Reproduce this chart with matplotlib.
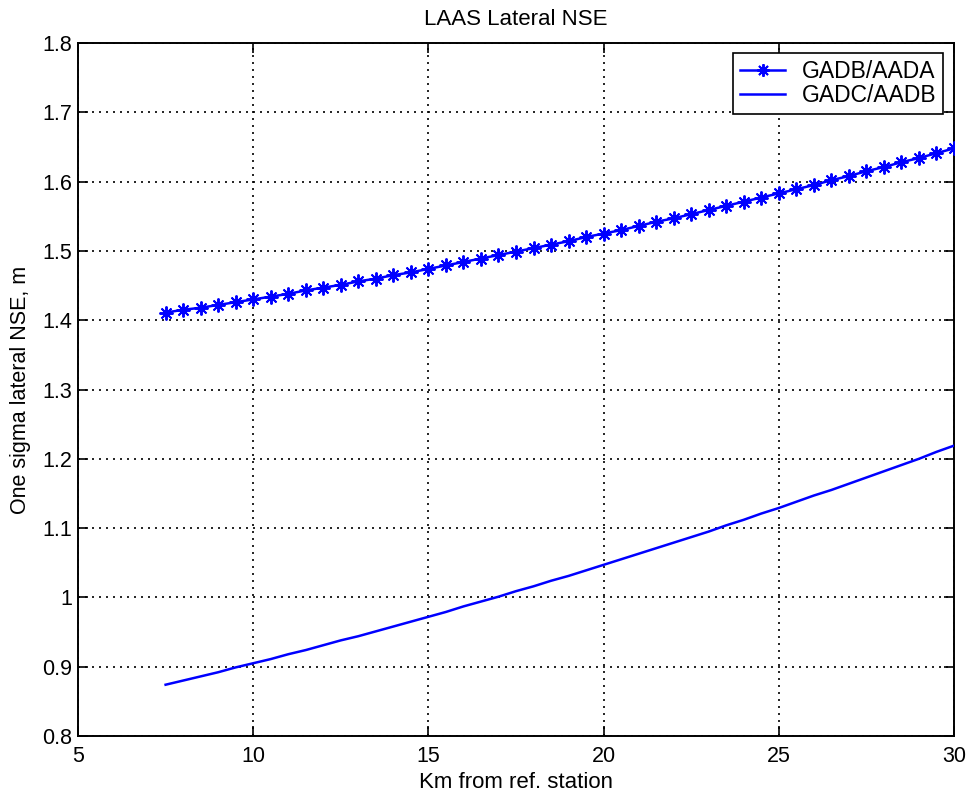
import matplotlib
matplotlib.use("Agg")
import matplotlib.pyplot as plt

plt.rcParams['font.family'] = ['Liberation Sans', 'DejaVu Sans']

# Distance from the reference station, km
km = [7.5, 8.0, 8.5, 9.0, 9.5, 10.0, 10.5, 11.0, 11.5, 12.0, 12.5, 13.0,
      13.5, 14.0, 14.5, 15.0, 15.5, 16.0, 16.5, 17.0, 17.5, 18.0, 18.5,
      19.0, 19.5, 20.0, 20.5, 21.0, 21.5, 22.0, 22.5, 23.0, 23.5, 24.0,
      24.5, 25.0, 25.5, 26.0, 26.5, 27.0, 27.5, 28.0, 28.5, 29.0, 29.5, 30.0]

# One-sigma lateral NSE, m
gadb_aada = [1.411, 1.415, 1.418, 1.422, 1.426, 1.430, 1.434, 1.438, 1.443,
             1.447, 1.451, 1.456, 1.460, 1.465, 1.469, 1.474, 1.479, 1.484,
             1.489, 1.494, 1.499, 1.504, 1.509, 1.514, 1.520, 1.525, 1.530,
             1.536, 1.542, 1.547, 1.553, 1.559, 1.565, 1.571, 1.577, 1.583,
             1.589, 1.595, 1.602, 1.608, 1.615, 1.621, 1.628, 1.634, 1.641,
             1.648]

gadc_aadb = [0.874, 0.880, 0.886, 0.892, 0.899, 0.905, 0.911, 0.918, 0.924,
             0.931, 0.938, 0.944, 0.951, 0.958, 0.965, 0.972, 0.979, 0.987,
             0.994, 1.001, 1.009, 1.016, 1.024, 1.031, 1.039, 1.047, 1.055,
             1.063, 1.071, 1.079, 1.087, 1.095, 1.104, 1.112, 1.121, 1.129,
             1.138, 1.147, 1.155, 1.164, 1.173, 1.182, 1.191, 1.200, 1.210,
             1.219]

series_labels = ['GADB/AADA', 'GADC/AADB']
x_ticks = [5, 10, 15, 20, 25, 30]
y_ticks = [0.8, 0.9, 1.0, 1.1, 1.2, 1.3, 1.4, 1.5, 1.6, 1.7, 1.8]
y_tick_labels = ['0.8', '0.9', '1', '1.1', '1.2', '1.3', '1.4', '1.5',
                 '1.6', '1.7', '1.8']

W, H = 969, 793
fig = plt.figure(figsize=(W / 100, H / 100), dpi=100)
left, right, top, bottom = 78, 954, 43, 736
ax = fig.add_axes([left / W, 1 - bottom / H, (right - left) / W,
                   (bottom - top) / H])

fs = 15.5
blue = '#0000ff'

ax.plot(km, gadb_aada, color=blue, lw=1.8, marker=(8, 2, 0),
        markersize=10, markeredgewidth=1.4, label=series_labels[0], zorder=3)
ax.plot(km, gadc_aadb, color=blue, lw=1.8, label=series_labels[1], zorder=3)

ax.set_xlim(5, 30)
ax.set_ylim(0.8, 1.8)
ax.set_xticks(x_ticks)
ax.set_yticks(y_ticks)
ax.set_yticklabels(y_tick_labels)

ax.grid(True, color='black', linestyle=(0, (1.2, 3.0)), linewidth=1.2)
ax.set_axisbelow(True)

ax.tick_params(axis='both', direction='in', length=7, width=1.2,
               top=True, right=True, labelsize=fs, color='black')
ax.tick_params(axis='x', pad=7)
ax.tick_params(axis='y', pad=4)
for sp in ax.spines.values():
    sp.set_linewidth(1.4)
    sp.set_color('black')

ax.set_title('LAAS Lateral NSE', fontsize=fs + 0.5, pad=13)
ax.set_xlabel('Km from ref. station', fontsize=fs + 0.5, labelpad=4)
ax.set_ylabel('One sigma lateral NSE, m', fontsize=fs, labelpad=8)

leg = ax.legend(loc='upper right',
                bbox_to_anchor=(1 - 11 / (right - left), 1 - 10 / (bottom - top)),
                borderaxespad=0, fontsize=fs + 1, fancybox=False, shadow=False,
                framealpha=1, edgecolor='black', handlelength=2.0,
                handletextpad=0.7, labelspacing=0.05, borderpad=0.3,
                markerscale=0.9)
leg.get_frame().set_linewidth(1.2)

fig.savefig('out.png', dpi=100)
